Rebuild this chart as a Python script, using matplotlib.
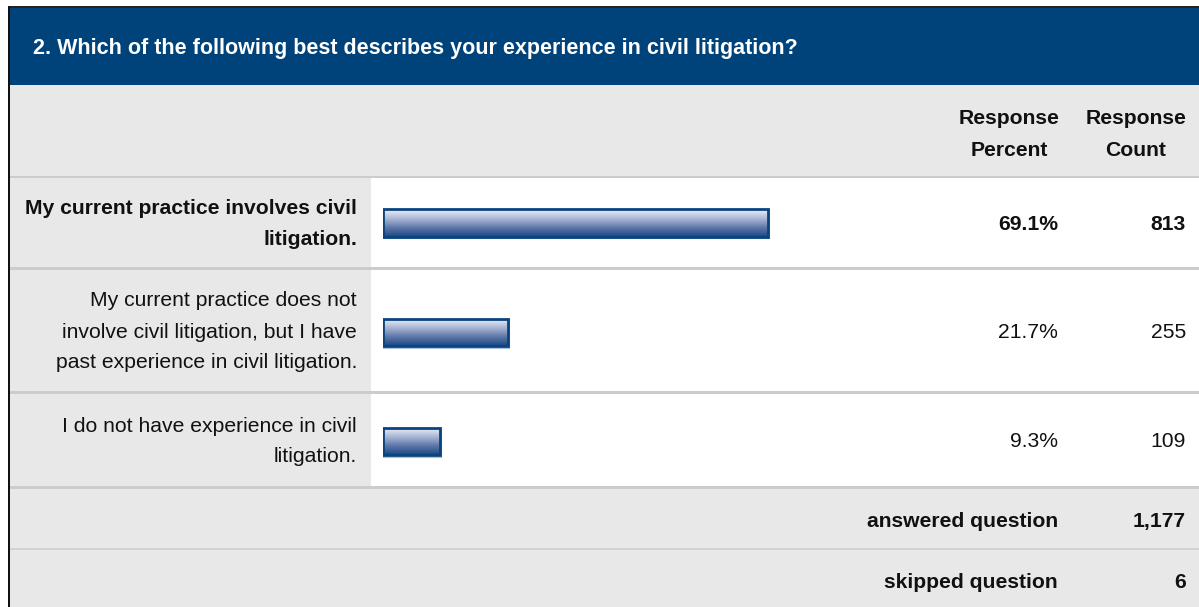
import numpy as np
import matplotlib
matplotlib.use("Agg")
import matplotlib.pyplot as plt
from matplotlib.patches import Rectangle
from matplotlib.colors import LinearSegmentedColormap

# ---- data ----
title = "2. Which of the following best describes your experience in civil litigation?"
col_headers = ["Response\nPercent", "Response\nCount"]
answers = [
    "My current practice involves civil\nlitigation.",
    "My current practice does not\ninvolve civil litigation, but I have\npast experience in civil litigation.",
    "I do not have experience in civil\nlitigation.",
]
percents = [69.1, 21.7, 9.3]
counts = [813, 255, 109]
answered = 1177
skipped = 6

W, H = 1199, 607
fig = plt.figure(figsize=(W / 100, H / 100), dpi=100)
plt.rcParams['font.family'] = ['Liberation Sans', 'DejaVu Sans']
ax = fig.add_axes([0, 0, 1, 1])
ax.set_xlim(0, W)
ax.set_ylim(H, 0)
ax.axis('off')

BLUE = '#00437B'
GRAY = '#E8E8E8'
SEP = '#CCCCCC'
FS = 15.2
TXT = '#111111'
DY = 1.5

# layout rows: (top, bottom)
rows = [(178, 267), (270, 391), (394, 486)]
row_centers = [(t + b) / 2 for t, b in rows]

# background frame
ax.add_patch(Rectangle((9, 6), W - 9, 2, color='#222222', lw=0))
ax.add_patch(Rectangle((8, 6), 2, H - 6, color='#111111', lw=0))
ax.add_patch(Rectangle((10, 8), W - 10, 77, color=BLUE, lw=0))
ax.add_patch(Rectangle((10, 85), W - 10, 91, color=GRAY, lw=0))
ax.add_patch(Rectangle((10, 176), W - 10, 2, color=SEP, lw=0))
for (t, b) in rows:
    ax.add_patch(Rectangle((10, t), W - 10, b - t, color='white', lw=0))
    ax.add_patch(Rectangle((10, t), 361, b - t, color=GRAY, lw=0))
    ax.add_patch(Rectangle((10, b), W - 10, 3, color=SEP, lw=0))
ax.add_patch(Rectangle((10, 489), W - 10, 118, color=GRAY, lw=0))
ax.add_patch(Rectangle((10, 548), W - 10, 1.5, color='#D2D2D2', lw=0))

# title
ax.text(33, 47 + DY, title, color='white', fontsize=15.5, fontweight='bold',
        va='center', ha='left')

# column headers
pct_x, cnt_x = 1009, 1136
for x, h in zip([pct_x, cnt_x], col_headers):
    l1, l2 = h.split("\n")
    ax.text(x, 117 + DY, l1, fontsize=FS, fontweight='bold', ha='center', va='center', color=TXT)
    ax.text(x, 149 + DY, l2, fontsize=FS, fontweight='bold', ha='center', va='center', color=TXT)

# labels and values
line_h = 31
for i, (lab, p, c, yc) in enumerate(zip(answers, percents, counts, row_centers)):
    lines = lab.split("\n")
    n = len(lines)
    wt = 'bold' if i == 0 else 'normal'
    for k, ln in enumerate(lines):
        y = yc + (k - (n - 1) / 2) * line_h + DY
        ax.text(357, y, ln, fontsize=FS, fontweight=wt, ha='right', va='center', color=TXT)
    ax.text(1058, yc + DY, f"{p:.1f}%", fontsize=FS, fontweight=wt, ha='right', va='center', color=TXT)
    ax.text(1186, yc + DY, f"{c:,}", fontsize=FS, fontweight=wt, ha='right', va='center', color=TXT)

ax.text(1058, 520 + DY, "answered question", fontsize=FS, fontweight='bold', ha='right', va='center', color=TXT)
ax.text(1186, 520 + DY, f"{answered:,}", fontsize=FS, fontweight='bold', ha='right', va='center', color=TXT)
ax.text(1058, 581 + DY, "skipped question", fontsize=FS, fontweight='bold', ha='right', va='center', color=TXT)
ax.text(1186, 581 + DY, f"{skipped:,}", fontsize=FS, fontweight='bold', ha='right', va='center', color=TXT)

# bar axes: 0% at pixel 389, 5.485 px per percent; axis starts at pixel 383
px0, scale = 389.0, 5.485
xmin = (383 - px0) / scale
xmax = 100
left_px = 383
right_px = px0 + xmax * scale
bax = fig.add_axes([left_px / W, 0, (right_px - left_px) / W, 1])
bax.set_xlim(xmin, xmax)
bax.set_ylim(H, 0)
bax.axis('off')
bax.patch.set_alpha(0)

bar_h = 27.5
bar_centers = [223, 332.5, 441.5]
cmap = LinearSegmentedColormap.from_list('g', ['#EEF1F8', '#ABB8D7', '#5F78AA', '#1A4783'])
grad = np.linspace(0, 1, 64).reshape(-1, 1)
bars = bax.barh(bar_centers, [p - xmin for p in percents], left=xmin, height=bar_h,
                facecolor='none', edgecolor='#0A437D', linewidth=2.0, zorder=3)
for b in bars:
    x0, y0 = b.get_x(), b.get_y()
    im = bax.imshow(grad, cmap=cmap, aspect='auto', interpolation='bilinear',
                    extent=[x0, x0 + b.get_width(), y0 + bar_h, y0], zorder=2)
    im.set_clip_path(b)
    # light shadow line at bottom/right
    bax.plot([x0, x0 + b.get_width() + 0.2], [y0 + bar_h + 1.4] * 2, color='#A9C0DE', lw=0.8, zorder=1)
    bax.plot([x0 + b.get_width() + 0.25] * 2, [y0, y0 + bar_h + 1.4], color='#A9C0DE', lw=0.8, zorder=1)

fig.savefig('out.png', dpi=100)
